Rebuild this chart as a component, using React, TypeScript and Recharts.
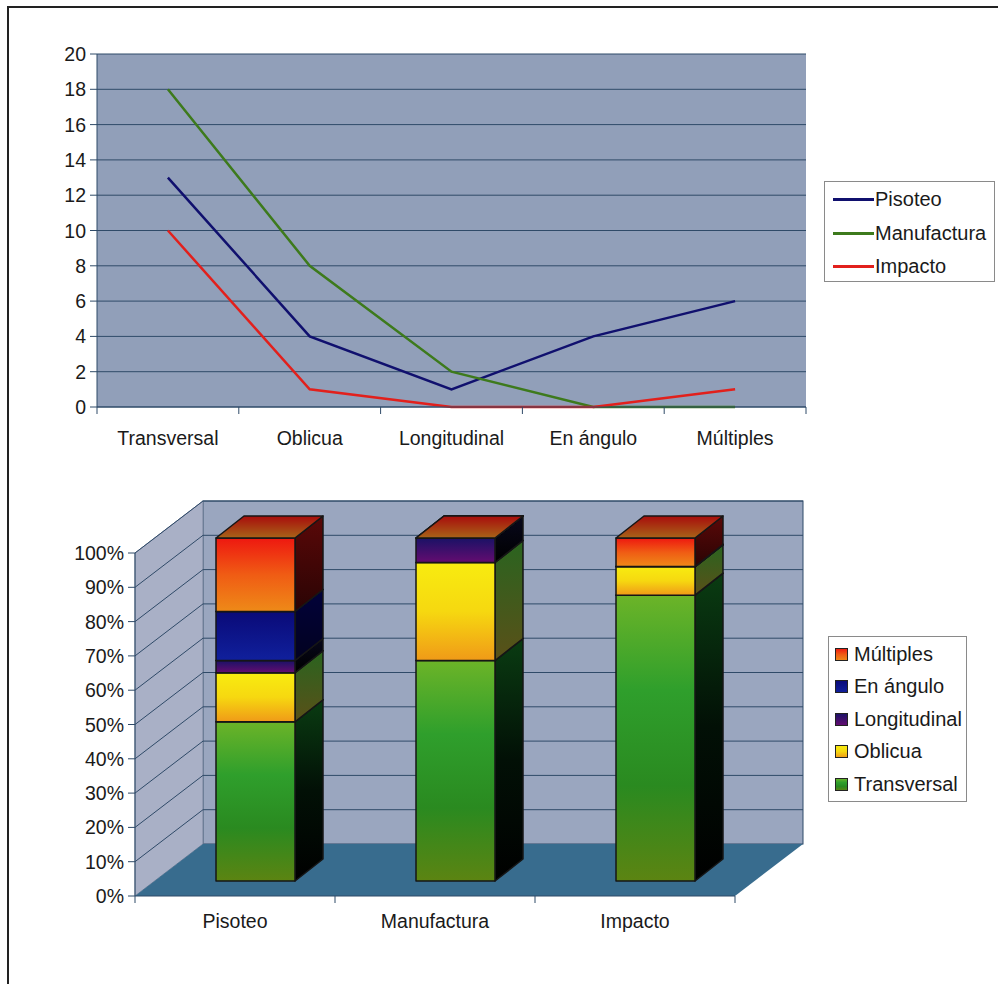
import React from 'react';
import { Bar, BarChart, CartesianGrid, Legend, Line, LineChart, XAxis, YAxis } from 'recharts';

const breakTypes = ['Transversal', 'Oblicua', 'Longitudinal', 'En ángulo', 'Múltiples'];
const origins = ['Pisoteo', 'Manufactura', 'Impacto'];

const pisoteo = [13, 4, 1, 4, 6];
const manufactura = [18, 8, 2, 0, 0];
const impacto = [10, 1, 0, 0, 1];

const countTicks = [0, 2, 4, 6, 8, 10, 12, 14, 16, 18, 20];
const percentTicks = [0, 0.1, 0.2, 0.3, 0.4, 0.5, 0.6, 0.7, 0.8, 0.9, 1];

const series = [pisoteo, manufactura, impacto];
const lineColors = ['#10106e', '#3d7a1c', '#e2201c'];
const stackIds = ['g', 'y', 'p', 'b', 'r'];

const lineData = breakTypes.map((name, i) => ({
  name,
  Pisoteo: pisoteo[i],
  Manufactura: manufactura[i],
  Impacto: impacto[i],
}));

const stackData = origins.map((name, o) => {
  const row: Record<string, string | number> = { name };
  breakTypes.forEach((t, i) => {
    row[t] = series[o][i];
  });
  return row;
});

const FONT = '"Liberation Sans", Arial, sans-serif';
const FONT_SIZE = 19.5;
const TEXT = '#1a1a1a';
const GRID = '#2f4a68';

const WIDTH = 998;
const HEIGHT = 984;
const AXIS_W = 60;
const AXIS_H = 60;

// 3d look of the lower chart
const WALL_DX = 68;
const WALL_DY = 52;
const BAR_DX = 20;
const BAR_DY = 15;
const SIDE_DX = 28;
const SIDE_DY = 22;

const lineM = { left: 97, top: 54, w: 709, h: 353 };
const barM = { left: 135, top: 553, w: 600, h: 343 };

const marginOf = (m: typeof lineM) => ({
  left: m.left - AXIS_W,
  top: m.top,
  right: WIDTH - m.left - m.w,
  bottom: HEIGHT - m.top - m.h - AXIS_H,
});

// ticks sit on the category boundaries, labels in the middle
const BoundaryTick = (props: any) => {
  const { x, payload, index, band, count, axisY, labelY } = props;
  return (
    <g>
      <line x1={x - band / 2} x2={x - band / 2} y1={axisY} y2={axisY + 7} stroke={GRID} />
      {index === count - 1 && <line x1={x + band / 2} x2={x + band / 2} y1={axisY} y2={axisY + 7} stroke={GRID} />}
      <text x={x} y={labelY} textAnchor="middle" fontSize={FONT_SIZE} fontFamily={FONT} fill={TEXT}>
        {payload.value}
      </text>
    </g>
  );
};

const ValueTick = (props: any) => {
  const { y, payload, suffix, axisX } = props;
  const label = suffix ? `${Math.round(payload.value * 100)}%` : payload.value;
  return (
    <g>
      <line x1={axisX - 7} x2={axisX} y1={y} y2={y} stroke={GRID} />
      <text x={axisX - 11} y={y + 7} textAnchor="end" fontSize={FONT_SIZE} fontFamily={FONT} fill={TEXT}>
        {label}
      </text>
    </g>
  );
};

const boxStyle: React.CSSProperties = {
  boxSizing: 'border-box',
  border: '1px solid #8a8a8a',
  background: '#fff',
  fontFamily: FONT,
  fontSize: 20,
  color: TEXT,
};

const LineLegend = () => (
  <div style={{ ...boxStyle, width: 171, height: 101, padding: '1px 0 0 8px' }}>
    {origins.map((name, i) => (
      <div key={name} style={{ display: 'flex', alignItems: 'center', height: 33.5 }}>
        <span style={{ width: 41, height: 3, marginRight: 1, background: lineColors[i] }} />
        {name}
      </div>
    ))}
  </div>
);

const BarLegend = () => (
  <div style={{ ...boxStyle, width: 139, height: 166, padding: '1px 0 0 6px' }}>
    {[...breakTypes].reverse().map((name) => {
      const id = stackIds[breakTypes.indexOf(name)];
      return (
        <div key={name} style={{ display: 'flex', alignItems: 'center', height: 32.5 }}>
          <svg width={13} height={13} style={{ marginRight: 6 }}>
            <rect x={0.5} y={0.5} width={12} height={12} fill={`url(#front-${id})`} stroke="#222" />
          </svg>
          {name}
        </div>
      );
    })}
  </div>
);

const Block = (props: any) => {
  const { x, y, width, height, stackId } = props;
  const fx = x + BAR_DX;
  const fy = y - BAR_DY;
  const line = { stroke: '#161616', strokeWidth: 1.5, strokeLinejoin: 'round' as const };
  const right = fx + width;
  return (
    <g>
      <polygon
        points={`${right},${fy} ${right + SIDE_DX},${fy - SIDE_DY} ${right + SIDE_DX},${fy + height - SIDE_DY} ${right},${fy + height}`}
        fill={`url(#side-${stackId})`}
        {...line}
      />
      <rect x={fx} y={fy} width={width} height={height} fill={`url(#front-${stackId})`} {...line} />
      <polygon
        points={`${fx},${fy} ${fx + SIDE_DX},${fy - SIDE_DY} ${right + SIDE_DX},${fy - SIDE_DY} ${right},${fy}`}
        fill="url(#top-all)"
        {...line}
      />
    </g>
  );
};

const grad = (id: string, stops: string[]) => (
  <linearGradient id={id} x1="0" y1="0" x2="0" y2="1" key={id}>
    {stops.map((c, i) => (
      <stop key={i} offset={i / (stops.length - 1)} stopColor={c} />
    ))}
  </linearGradient>
);

// sits in its own svg under the chart so the grid stays on top of it
const Walls = () => {
  const { left, top, w, h } = barM;
  return (
    <svg width={WIDTH} height={HEIGHT} style={{ position: 'absolute', left: 0, top: 0 }}>
      <rect x={left + WALL_DX} y={top - WALL_DY} width={w} height={h} fill="#9aa6bf" stroke={GRID} />
      <polygon
        points={`${left},${top} ${left + WALL_DX},${top - WALL_DY} ${left + WALL_DX},${top + h - WALL_DY} ${left},${top + h}`}
        fill="#a9b0c6"
        stroke="#77839c"
      />
      <polygon
        points={`${left},${top + h} ${left + WALL_DX},${top + h - WALL_DY} ${left + w + WALL_DX},${top + h - WALL_DY} ${left + w},${top + h}`}
        fill="#386c8e"
      />
    </svg>
  );
};

// the gridline bends along the side wall and runs on over the back wall
const WallGridLine = (props: any) => {
  const { x1, y1 } = props;
  if (y1 >= barM.top + barM.h) return <g />;
  return (
    <polyline
      points={`${x1},${y1} ${x1 + WALL_DX},${y1 - WALL_DY} ${x1 + WALL_DX + barM.w},${y1 - WALL_DY}`}
      fill="none"
      stroke={GRID}
      strokeWidth={1}
    />
  );
};

export default function App() {
  return (
    <div style={{ position: 'absolute', left: 0, top: 0, width: WIDTH, height: HEIGHT, overflow: 'hidden', background: '#fff' }}>
      <div style={{ position: 'absolute', left: 7, top: 6, width: 1000, height: 1000, borderLeft: '2px solid #222', borderTop: '2px solid #222' }} />
      <Walls />

      <div style={{ position: 'absolute', left: 0, top: 0 }}>
        <LineChart width={WIDTH} height={HEIGHT} data={lineData} margin={marginOf(lineM)}>
          <CartesianGrid vertical={false} stroke={GRID} fill="#919fb9" horizontalValues={countTicks} />
          <XAxis
            dataKey="name"
            scale="band"
            stroke={GRID}
            height={AXIS_H}
            tickLine={false}
            interval={0}
            tick={<BoundaryTick band={lineM.w / 5} count={5} axisY={lineM.top + lineM.h} labelY={445} />}
          />
          <YAxis
            domain={[0, 20]}
            ticks={countTicks}
            interval={0}
            stroke={GRID}
            tickLine={false}
            width={AXIS_W}
            tick={<ValueTick axisX={lineM.left} />}
          />
          {origins.map((name, i) => (
            <Line key={name} dataKey={name} stroke={lineColors[i]} strokeWidth={2.5} dot={false} isAnimationActive={false} />
          ))}
          <Legend
            content={<LineLegend />}
            layout="vertical"
            align="center"
            verticalAlign="middle"
            wrapperStyle={{ left: 824, top: 181, width: 171, bottom: 'auto', right: 'auto' }}
          />
        </LineChart>
      </div>

      <div style={{ position: 'absolute', left: 0, top: 0, pointerEvents: 'none' }}>
        <BarChart width={WIDTH} height={HEIGHT} data={stackData} stackOffset="expand" barSize={79} margin={marginOf(barM)}>
          <defs>
            {grad('front-g', ['#6cb428', '#2f9f2c', '#2a8a20', '#5c8412'])}
            {grad('front-y', ['#f8ec10', '#f6d810', '#f09a18'])}
            {grad('front-p', ['#1a1266', '#640c70'])}
            {grad('front-b', ['#0a0a78', '#10209c'])}
            {grad('front-r', ['#ee1810', '#f05c14', '#ee8a18'])}
            {grad('side-g', ['#0a3c12', '#021006', '#000000'])}
            {grad('side-y', ['#2a6420', '#5a5018'])}
            {grad('side-p', ['#08081c', '#000000'])}
            {grad('side-b', ['#02023a', '#020220'])}
            {grad('side-r', ['#5a0808', '#2a0404'])}
            {grad('top-all', ['#a80c0c', '#a86418'])}
          </defs>
          <CartesianGrid vertical={false} horizontal={<WallGridLine />} horizontalValues={percentTicks} />
          <XAxis
            dataKey="name"
            stroke={GRID}
            tickLine={false}
            height={AXIS_H}
            interval={0}
            tick={<BoundaryTick band={barM.w / 3} count={3} axisY={barM.top + barM.h} labelY={928} />}
          />
          <YAxis
            domain={[0, 1]}
            ticks={percentTicks}
            interval={0}
            stroke={GRID}
            tickLine={false}
            width={AXIS_W}
            tick={<ValueTick suffix axisX={barM.left} />}
          />
          {breakTypes.map((name, i) => (
            <Bar key={name} dataKey={name} stackId="a" isAnimationActive={false} shape={(p: any) => <Block {...p} stackId={stackIds[i]} />} />
          ))}
          <Legend
            content={<BarLegend />}
            layout="vertical"
            align="center"
            verticalAlign="middle"
            wrapperStyle={{ left: 828, top: 636, width: 139, bottom: 'auto', right: 'auto' }}
          />
        </BarChart>
      </div>
    </div>
  );
}
